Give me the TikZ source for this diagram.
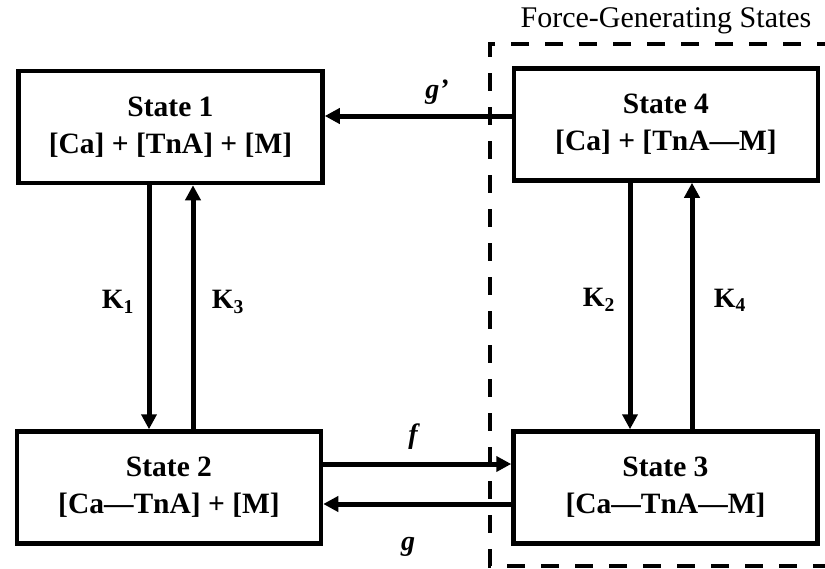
\documentclass[tikz,border=0pt]{standalone}
\usepackage{fontspec}
\setmainfont{Liberation Serif}
\usetikzlibrary{arrows.meta}
\begin{document}
\begin{tikzpicture}[x=1pt,y=-1pt,
  box/.style={draw,line width=4.5pt,minimum width=304pt,minimum height=112pt,inner sep=0pt,align=center,font=\fontsize{29.5}{37}\selectfont\bfseries},
  arr/.style={line width=5pt,-{Triangle[length=15pt,width=15pt]}},
  lbl/.style={font=\fontsize{28}{30}\selectfont\bfseries},
  ilbl/.style={font=\fontsize{28}{30}\selectfont\bfseries\itshape},
  region/.style={line width=4pt,dash pattern=on 18pt off 16pt}]
\useasboundingbox (0,0) rectangle (825,568);
\clip (0,0) rectangle (825,568);
\fill[white] (0,0) rectangle (825,568);
% force-generating region
\coordinate (rtl) at (490,44);
\coordinate (rbl) at (490,566);
\coordinate (rtr) at (835,44);
\coordinate (rbr) at (835,566);
\draw[region] (rtr) -- (rtl) -- (rbl) -- (rbr);
\node[font=\fontsize{30}{32}\selectfont] (title) at (666,21) {Force-Generating States};
% states
\node[box] (s1) at (170.5,127) {State 1\\{}[Ca] + [TnA] + [M]};
\node[box] (s4) at (666,124.5) {State 4\\{}[Ca] + [TnA—M]};
\node[box] (s2) at (169,487.5) {State 2\\{}[Ca—TnA] + [M]};
\node[box] (s3) at (665.5,487.5) {State 3\\{}[Ca—TnA—M]};
% helper coordinates
\coordinate (xk1) at (149,0);
\coordinate (xk3) at (193,0);
\coordinate (xk2) at (630,0);
\coordinate (xk4) at (692,0);
\coordinate (ygp) at (0,116);
\coordinate (yf) at (0,464);
\coordinate (yg) at (0,504);
% connectors
\draw[arr] (s1.south -| xk1) -- (s2.north -| xk1);
\draw[arr] (s2.north -| xk3) -- (s1.south -| xk3);
\draw[arr] (s4.south -| xk2) -- (s3.north -| xk2);
\draw[arr] (s3.north -| xk4) -- (s4.south -| xk4);
\draw[arr] (s4.west |- ygp) -- (s1.east |- ygp);
\draw[arr] (s2.east |- yf) -- (s3.west |- yf);
\draw[arr] (s3.west |- yg) -- (s2.east |- yg);
% labels
\node[lbl] (k1) at (118,302) {K\textsubscript{1}};
\node[lbl] (k3) at (228,302) {K\textsubscript{3}};
\node[lbl] (k2) at (599,300) {K\textsubscript{2}};
\node[lbl] (k4) at (730,300) {K\textsubscript{4}};
\node[ilbl] (lgp) at (437,92) {g’};
\node[ilbl] (lf) at (413,437) {f};
\node[ilbl] (lg) at (408,547) {g};
\end{tikzpicture}
\end{document}
